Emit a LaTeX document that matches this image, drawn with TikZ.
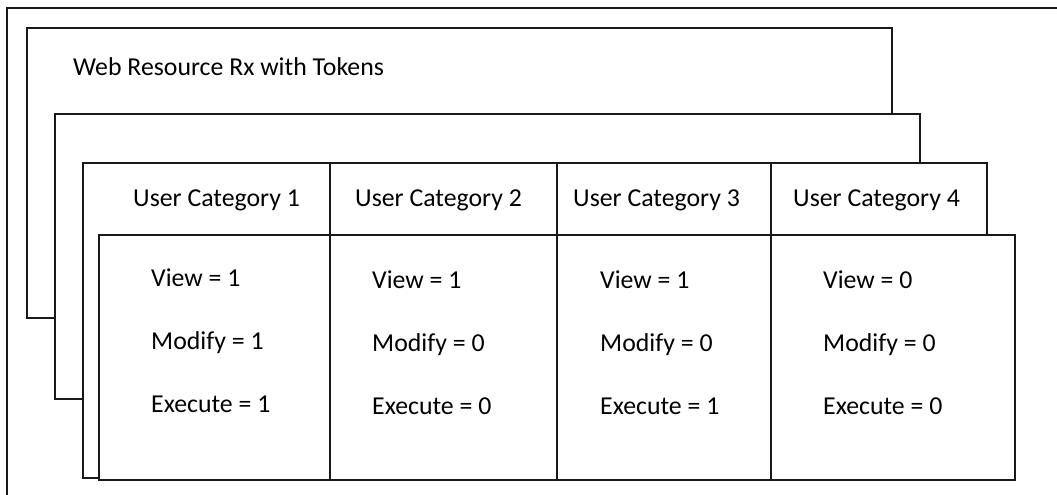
\documentclass[tikz,border=0pt]{standalone}
\usepackage{fontspec}
\setmainfont{Carlito}
\begin{document}
\begin{tikzpicture}[x=1pt,y=-1pt,
  frame/.style={draw=black!90,line width=1.8pt,fill=white},
  lbl/.style={anchor=base west,inner sep=0pt,font=\fontsize{25.8}{30}\selectfont}]
\useasboundingbox (0,0) rectangle (1057,495);
\clip (0,0) rectangle (1057,495);
% outer frame (cropped at right and bottom)
\draw[frame] (7,8) rectangle (1080,520);
% stacked sheets
\draw[frame] (27,28) rectangle (892,318);
\node[lbl] (title) at (73,75) {Web Resource Rx with Tokens};
\draw[frame] (55,114) rectangle (920,399);
\draw[frame] (83,163) rectangle (987,478);
\draw[frame] (99,235) rectangle (1015,480);
% column dividers
\foreach \x in {330,557,771}
  \draw[draw=black!90,line width=1.8pt] (\x,163) -- (\x,480);
% headers
\node[lbl] (h1) at (133,206) {User Category 1};
\node[lbl] (h2) at (355,206) {User Category 2};
\node[lbl] (h3) at (573,206) {User Category 3};
\node[lbl] (h4) at (793,206) {User Category 4};
% body entries
\node[lbl] (v1) at (151,286) {View = 1};
\node[lbl] (m1) at (151,349) {Modify = 1};
\node[lbl] (e1) at (151,412) {Execute = 1};
\node[lbl] (v2) at (372,288) {View = 1};
\node[lbl] (m2) at (372,351) {Modify = 0};
\node[lbl] (e2) at (372,414) {Execute = 0};
\node[lbl] (v3) at (600,288) {View = 1};
\node[lbl] (m3) at (600,351) {Modify = 0};
\node[lbl] (e3) at (600,414) {Execute = 1};
\node[lbl] (v4) at (823,288) {View = 0};
\node[lbl] (m4) at (823,351) {Modify = 0};
\node[lbl] (e4) at (823,414) {Execute = 0};
\end{tikzpicture}
\end{document}
